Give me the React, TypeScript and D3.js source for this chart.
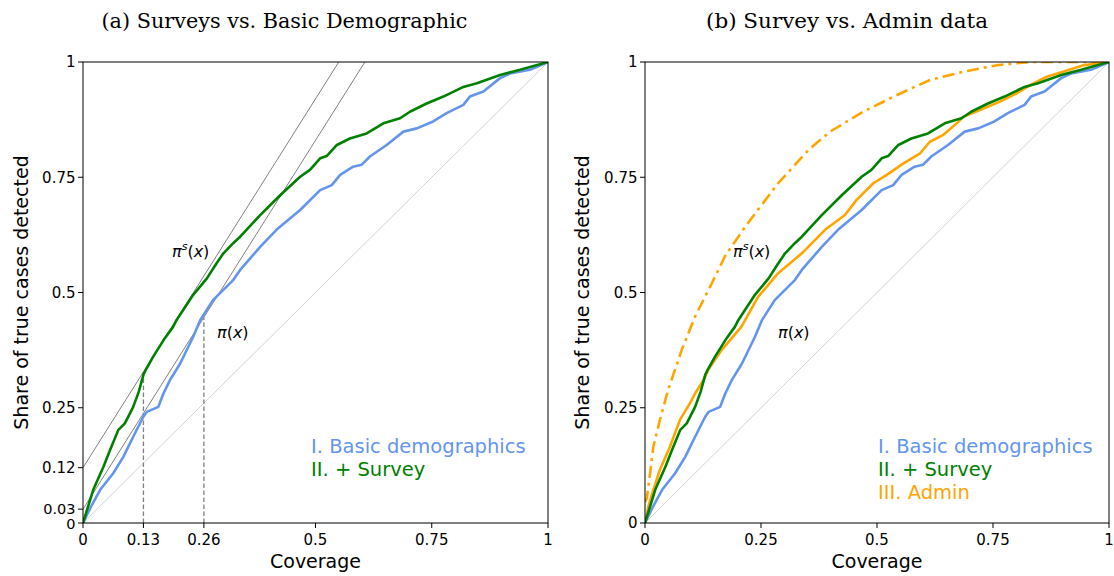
import React from "react";
import * as d3 from "d3";

// ---------- data ----------
const basicX = [0, 0.019, 0.037, 0.065, 0.087, 0.108, 0.13, 0.137, 0.162, 0.173, 0.187, 0.209, 0.237, 0.252, 0.28, 0.323, 0.338, 0.381, 0.416, 0.467, 0.51, 0.535, 0.553, 0.581, 0.599, 0.617, 0.653, 0.689, 0.718, 0.753, 0.782, 0.818, 0.832, 0.861, 0.897, 0.918, 0.961, 1];
const basicY = [0, 0.039, 0.072, 0.108, 0.144, 0.187, 0.231, 0.241, 0.252, 0.281, 0.31, 0.346, 0.404, 0.44, 0.484, 0.527, 0.549, 0.599, 0.636, 0.679, 0.722, 0.733, 0.755, 0.773, 0.777, 0.795, 0.82, 0.849, 0.856, 0.871, 0.889, 0.907, 0.925, 0.936, 0.965, 0.975, 0.983, 1];

const surveyX = [0, 0.022, 0.044, 0.058, 0.076, 0.09, 0.108, 0.12, 0.13, 0.135, 0.151, 0.176, 0.194, 0.201, 0.237, 0.266, 0.287, 0.302, 0.323, 0.338, 0.381, 0.424, 0.467, 0.488, 0.51, 0.524, 0.546, 0.574, 0.61, 0.646, 0.682, 0.703, 0.739, 0.775, 0.818, 0.847, 0.897, 0.94, 1];
const surveyY = [0, 0.072, 0.122, 0.158, 0.202, 0.216, 0.252, 0.285, 0.322, 0.332, 0.361, 0.401, 0.426, 0.44, 0.495, 0.53, 0.563, 0.585, 0.607, 0.621, 0.668, 0.711, 0.751, 0.766, 0.791, 0.796, 0.82, 0.834, 0.845, 0.867, 0.878, 0.892, 0.91, 0.925, 0.946, 0.954, 0.972, 0.983, 1];

const adminX = [0, 0.007, 0.018, 0.032, 0.054, 0.075, 0.097, 0.108, 0.126, 0.136, 0.165, 0.208, 0.244, 0.287, 0.338, 0.388, 0.431, 0.456, 0.492, 0.521, 0.557, 0.593, 0.614, 0.643, 0.672, 0.686, 0.722, 0.765, 0.801, 0.83, 0.866, 0.901, 0.945, 1];
const adminY = [0, 0.035, 0.072, 0.115, 0.166, 0.223, 0.26, 0.281, 0.31, 0.332, 0.375, 0.426, 0.491, 0.542, 0.585, 0.636, 0.668, 0.701, 0.737, 0.755, 0.78, 0.802, 0.827, 0.842, 0.867, 0.881, 0.896, 0.914, 0.932, 0.95, 0.968, 0.979, 0.993, 1];

const adminSX = [0, 0.004, 0.011, 0.018, 0.032, 0.05, 0.079, 0.108, 0.144, 0.172, 0.216, 0.287, 0.352, 0.399, 0.47, 0.542, 0.614, 0.686, 0.758, 0.83, 1];
const adminSY = [0.045, 0.054, 0.108, 0.166, 0.223, 0.289, 0.375, 0.448, 0.52, 0.578, 0.643, 0.737, 0.809, 0.849, 0.892, 0.928, 0.961, 0.979, 0.993, 1, 1];

const tangentSlope = 1.6;
const tangentIntercepts = [0.12, 0.03];
const tangentPoints = [0.13, 0.26];

const leftXTicks = [0, 0.13, 0.26, 0.5, 0.75, 1];
const leftYTicks = [0, 0.03, 0.12, 0.25, 0.5, 0.75, 1];
const rightXTicks = [0, 0.25, 0.5, 0.75, 1];
const rightYTicks = [0, 0.25, 0.5, 0.75, 1];

const legendLeft = ["I. Basic demographics", "II. + Survey"];
const legendRight = ["I. Basic demographics", "II. + Survey", "III. Admin"];

const BLUE = "#6495ED";
const GREEN = "#008000";
const ORANGE = "#FFA500";

const fmt = (v: number) => (v === 0 ? "0" : v === 1 ? "1" : String(v));

const zip = (xs: number[], ys: number[]) => xs.map((x, i) => [x, ys[i]] as [number, number]);

const TOP = 62;
const BOTTOM = 523;
const SANS = "DejaVu Sans, sans-serif";

function Panel({ x0, x1, id, xTicks, yTicks, right }: any) {
  const x = d3.scaleLinear().domain([0, 1]).range([x0, x1]);
  const y = d3.scaleLinear().domain([0, 1]).range([BOTTOM, TOP]);
  const line = d3.line<[number, number]>().x((d) => x(d[0])).y((d) => y(d[1]));
  const clip = `clip-${id}`;
  const curves = right
    ? [
        { d: zip(basicX, basicY), c: BLUE },
        { d: zip(adminX, adminY), c: ORANGE },
        { d: zip(surveyX, surveyY), c: GREEN },
      ]
    : [
        { d: zip(basicX, basicY), c: BLUE },
        { d: zip(surveyX, surveyY), c: GREEN },
      ];
  const legend = right ? legendRight : legendLeft;
  const legendColors = [BLUE, GREEN, ORANGE];
  const legendX = right ? x0 + 233 : x0 + 228;
  const ylabX = right ? x0 - 56 : x0 - 55.5;
  return (
    <g>
      <defs>
        <clipPath id={clip}>
          <rect x={x0} y={TOP} width={x1 - x0} height={BOTTOM - TOP} />
        </clipPath>
      </defs>
      <g clipPath={`url(#${clip})`}>
        <line x1={x(0)} y1={y(0)} x2={x(1)} y2={y(1)} stroke="#d3d3d3" strokeWidth={1} />
        {!right &&
          tangentIntercepts.map((b, i) => (
            <line key={"t" + i} x1={x(0)} y1={y(b)} x2={x(1)} y2={y(b + tangentSlope)} stroke="#808080" strokeWidth={1} />
          ))}
        {!right &&
          tangentPoints.map((p, i) => (
            <line key={"v" + i} x1={x(p)} y1={y(0)} x2={x(p)} y2={y(tangentIntercepts[i] + tangentSlope * p)} stroke="#808080" strokeWidth={1.3} strokeDasharray="4.5,2.5" />
          ))}
        {right && (
          <path d={line(zip(adminSX, adminSY)) || ""} fill="none" stroke={ORANGE} strokeWidth={2.6} strokeDasharray="12,5,3,5" />
        )}
        {curves.map((c, i) => (
          <path key={i} d={line(c.d) || ""} fill="none" stroke={c.c} strokeWidth={2.6} strokeLinejoin="round" />
        ))}
      </g>
      <rect x={x0} y={TOP} width={x1 - x0} height={BOTTOM - TOP} fill="none" stroke="#000" strokeWidth={1} />
      {xTicks.map((t: number) => (
        <g key={"xt" + t}>
          <line x1={x(t)} x2={x(t)} y1={BOTTOM} y2={BOTTOM + 5} stroke="#000" strokeWidth={1} />
          <text x={x(t)} y={545} textAnchor="middle" fontFamily={SANS} fontSize={15}>
            {fmt(t)}
          </text>
        </g>
      ))}
      {yTicks.map((t: number) => (
        <g key={"yt" + t}>
          <line x1={x0 - 5} x2={x0} y1={y(t)} y2={y(t)} stroke="#000" strokeWidth={1} />
          <text x={x0 - 7.5} y={y(t) + (t === 0 && !right ? 1 : 0)} dy="0.36em" textAnchor="end" fontFamily={SANS} fontSize={t === 0.03 || (t === 0 && !right) ? 14.5 : 15}>
            {fmt(t)}
          </text>
        </g>
      ))}
      <text x={(x0 + x1) / 2} y={568} textAnchor="middle" fontFamily={SANS} fontSize={19}>
        Coverage
      </text>
      <text transform={`translate(${ylabX},${(TOP + BOTTOM) / 2}) rotate(-90)`} textAnchor="middle" fontFamily={SANS} fontSize={19}>
        Share of true cases detected
      </text>
      {legend.map((s, i) => (
        <text key={s} x={legendX} y={453 + i * 23} fontFamily={SANS} fontSize={19.5} fill={legendColors[i]}>
          {s}
        </text>
      ))}
      <text x={right ? 733 : 172} y={257} fontFamily={SANS} fontSize={16}>
        <tspan fontStyle="italic">π</tspan>
        <tspan fontStyle="italic" fontSize={11} dy={-7}>s</tspan>
        <tspan dy={7}>(</tspan>
        <tspan fontStyle="italic">x</tspan>
        <tspan>)</tspan>
      </text>
      <text x={right ? 778 : 217} y={338} fontFamily={SANS} fontSize={16}>
        <tspan fontStyle="italic">π</tspan>
        <tspan>(</tspan>
        <tspan fontStyle="italic">x</tspan>
        <tspan>)</tspan>
      </text>
    </g>
  );
}

export default function App() {
  return (
    <svg width={1114} height={576} style={{ position: "absolute", left: 0, top: 0, background: "#fff" }}>
      <rect width={1114} height={576} fill="#fff" />
      <text x={101.5} y={28} fontFamily="DejaVu Serif, serif" fontSize={20} textLength={366} lengthAdjust="spacingAndGlyphs">
        (a) Surveys vs. Basic Demographic
      </text>
      <text x={706} y={28} fontFamily="DejaVu Serif, serif" fontSize={20} textLength={282} lengthAdjust="spacingAndGlyphs">
        (b) Survey vs. Admin data
      </text>
      <Panel x0={83} x1={548} id="a" xTicks={leftXTicks} yTicks={leftYTicks} right={false} />
      <Panel x0={645} x1={1109} id="b" xTicks={rightXTicks} yTicks={rightYTicks} right={true} />
    </svg>
  );
}
